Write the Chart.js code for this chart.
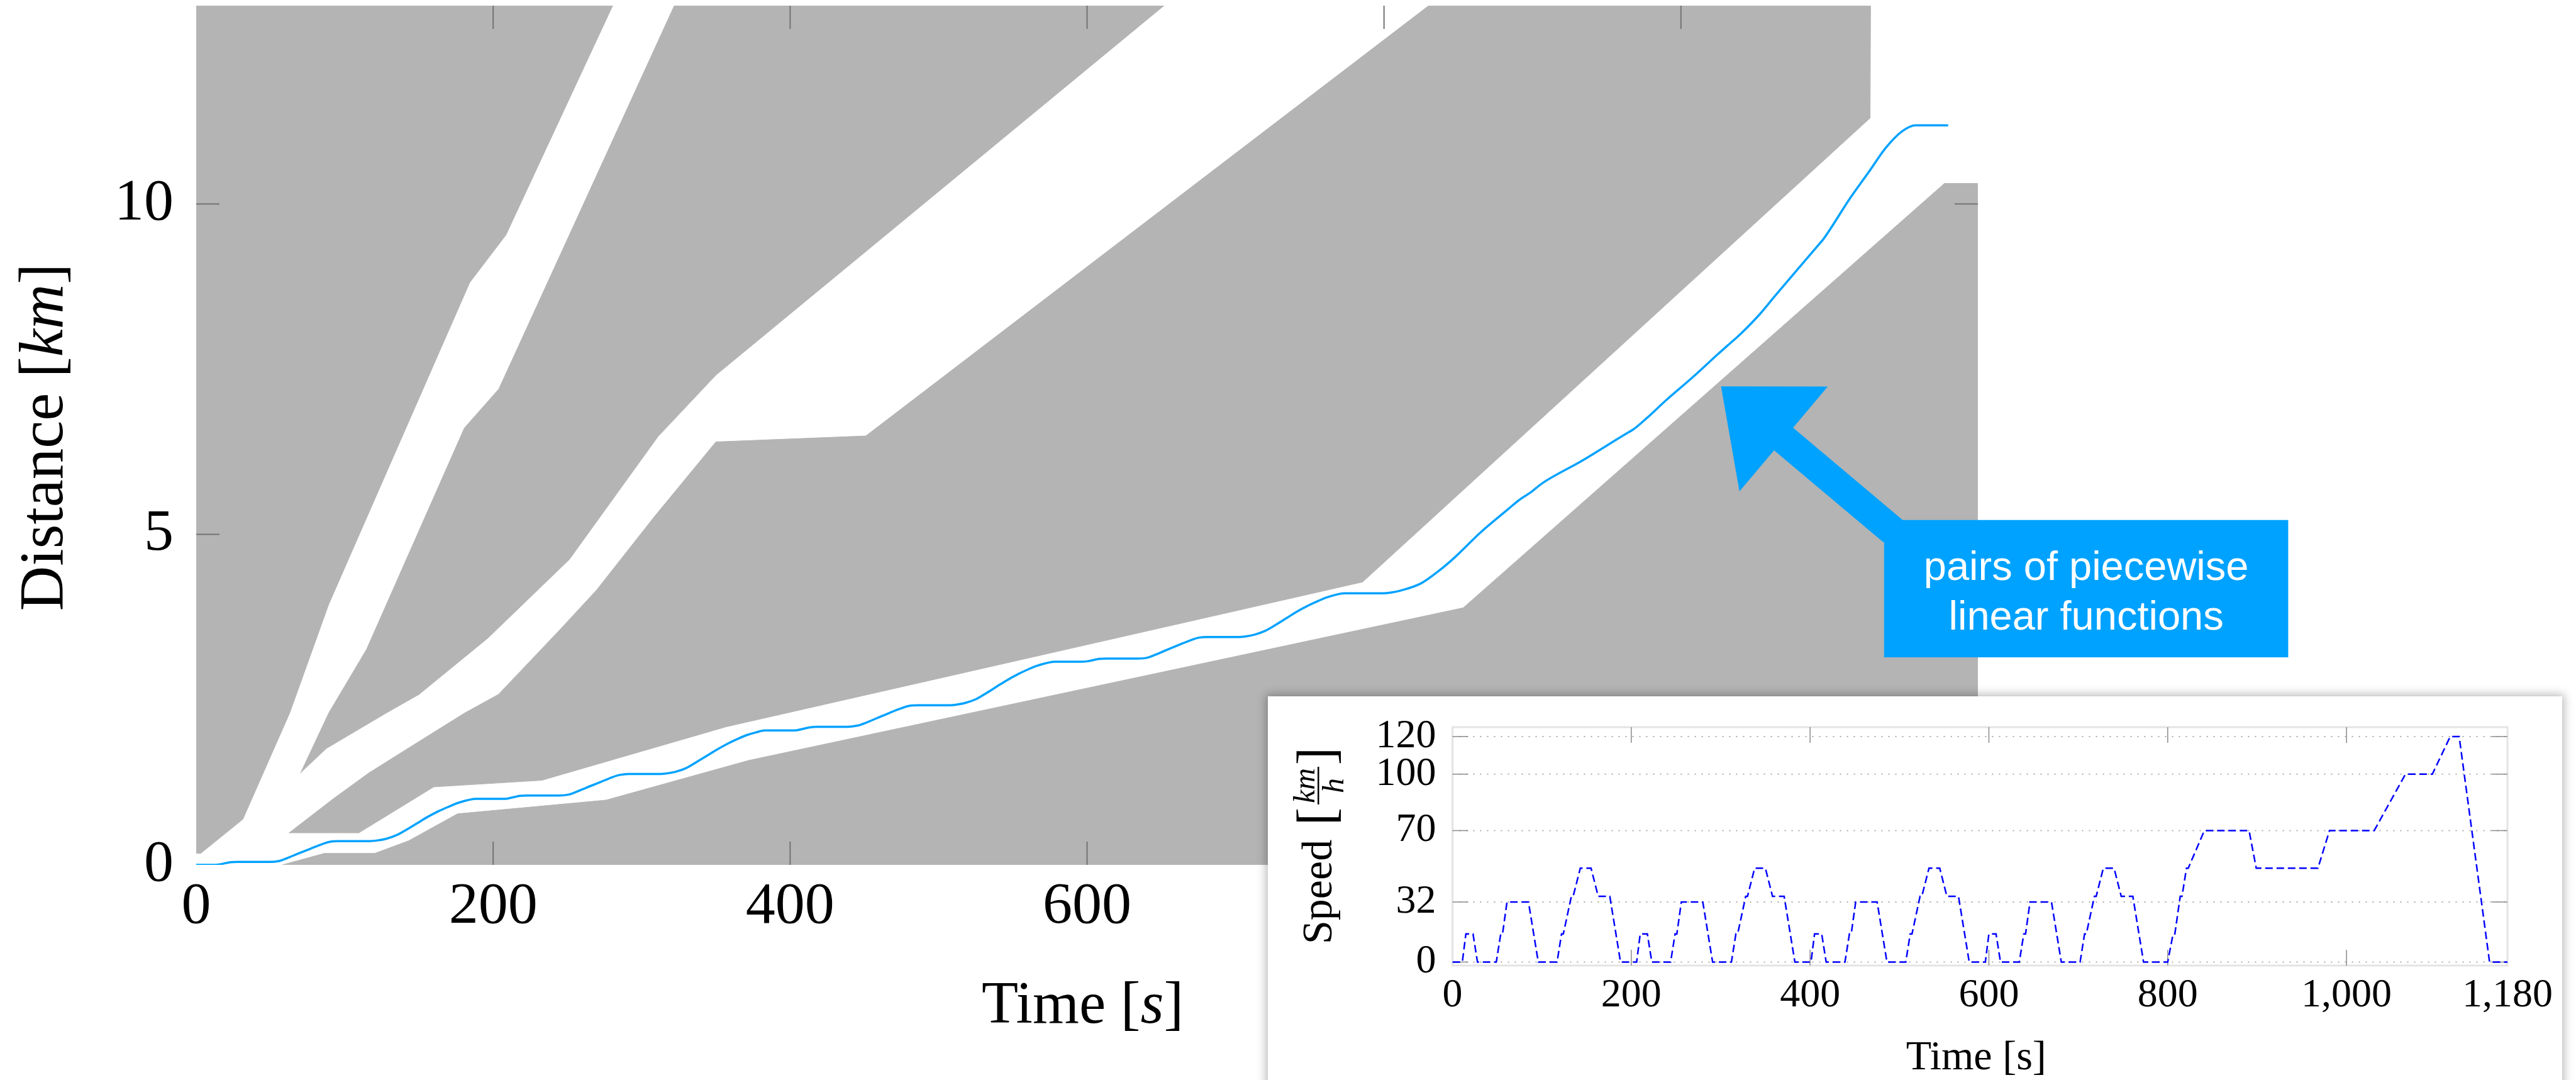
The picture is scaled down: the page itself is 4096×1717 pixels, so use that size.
<!DOCTYPE html>
<html>
<head>
  <meta charset="utf-8">
  <title>Distance corridors</title>
  <script src="https://cdn.jsdelivr.net/npm/chart.js"></script>
  <style>
    body { margin: 0; width: 4096px; height: 1717px; overflow: hidden; background: #fff; position: relative; }
    #main { position: absolute; left: 0; top: 0; }
    .inset { position: absolute; left: 2016px; top: 1107px; width: 2058px; height: 700px; background: #fff;
             box-shadow: 0 0 14px 3px rgba(0, 0, 0, 0.28); }
  </style>
</head>
<body>
  <canvas id="main" width="4096" height="1717"></canvas>
  <div class="inset"><canvas id="speed" width="2058" height="610"></canvas></div>

  <script>
    // ---- data ----
    const timeTicks = [0, 200, 400, 600, 800, 1000, 1200];
    const distTicks = [0, 5, 10];
    const insetTimeTicks = [0, 200, 400, 600, 800, 1000, 1180];
    const speedTicks = [0, 32, 70, 100, 120];

    // grey regions [time s, distance km]
    const greyLeft = [[0, 0.174], [3, 0.174], [31.4, 0.69], [63, 2.3], [89.2, 3.94], [184.2, 8.81], [208.6, 9.53], [280.5, 13], [0, 13]];
    const greyWedge = [[70.3, 1.39], [89.3, 2.3], [114.7, 3.26], [180.6, 6.61], [203.8, 7.2], [322, 13], [651.8, 13], [350, 7.41],
      [311, 6.48], [251.3, 4.62], [196.4, 3.43], [150.1, 2.58], [128.2, 2.3], [88.3, 1.77]];
    const greyMiddle = [[62.3, 0.48], [92.3, 1.0], [116.2, 1.39], [148.1, 1.84], [181, 2.3], [203.6, 2.58], [245, 3.56], [269.7, 4.16],
      [308.6, 5.27], [350, 6.4], [451, 6.49], [830.1, 13], [1127.7, 13], [1127.4, 11.3], [785.6, 4.28], [357, 2.09], [232.8, 1.28],
      [160, 1.18], [109.2, 0.48]];
    const greyLower = [[58, 0], [86.3, 0.174], [120.2, 0.174], [143.1, 0.365], [176, 0.773], [276, 0.98], [372, 1.58], [853.4, 3.89],
      [1177.4, 10.31], [1200, 10.31], [1200, 0]];

    // travelled distance (blue line)
    const distTime = [0, 11, 15, 23, 28, 49, 56, 61, 68, 77, 85, 90, 96, 117, 122, 128, 135, 143, 150, 155, 163, 170, 176, 182, 188,
      206, 210, 218, 223, 244, 251, 256, 263, 272, 280, 285, 291, 312, 317, 323, 330, 338, 345, 350, 358, 365, 371, 377, 383,
      401, 405, 413, 418, 439, 446, 451, 458, 467, 475, 480, 486, 507, 512, 518, 525, 533, 540, 545, 553, 560, 566, 572, 578,
      596, 600, 608, 613, 634, 641, 646, 653, 662, 670, 675, 681, 702, 707, 713, 720, 728, 735, 740, 748, 755, 761, 767, 773,
      800, 806, 812, 825, 837, 848, 865, 884, 891, 899, 907, 933, 962, 968, 977, 990, 1008, 1025, 1031, 1040, 1053, 1063, 1093,
      1096, 1114, 1127, 1138, 1149, 1158, 1180];
    const distKm = [0, 0, 0.005, 0.04, 0.045, 0.045, 0.06, 0.1, 0.165, 0.245, 0.315, 0.35, 0.36, 0.36, 0.37, 0.395, 0.45, 0.55, 0.645, 0.715, 0.81, 0.88, 0.935, 0.975, 1.0,
      1.0, 1.005, 1.045, 1.05, 1.05, 1.065, 1.105, 1.17, 1.25, 1.325, 1.36, 1.375, 1.375, 1.385, 1.41, 1.465, 1.57, 1.665, 1.735, 1.835, 1.91, 1.965, 2.005, 2.035,
      2.035, 2.04, 2.08, 2.09, 2.09, 2.11, 2.15, 2.215, 2.3, 2.37, 2.405, 2.415, 2.415, 2.425, 2.45, 2.505, 2.61, 2.71, 2.78, 2.88, 2.955, 3.01, 3.05, 3.075,
      3.075, 3.08, 3.116, 3.122, 3.122, 3.137, 3.179, 3.246, 3.329, 3.401, 3.437, 3.448, 3.448, 3.458, 3.484, 3.541, 3.644, 3.743, 3.815, 3.913, 3.986, 4.043, 4.084, 4.11,
      4.11, 4.125, 4.155, 4.26, 4.45, 4.66, 5.03, 5.39, 5.52, 5.64, 5.78, 6.11, 6.51, 6.59, 6.76, 7.03, 7.38, 7.73, 7.85, 8.03, 8.33, 8.6, 9.39,
      9.47, 10.09, 10.5, 10.85, 11.1, 11.19, 11.19];

    // speed profile (inset)
    const speedTime = [0, 11, 15, 23, 28, 49, 54, 56, 61, 85, 96, 117, 122, 124, 133, 135, 143, 155, 163, 176, 188,
      206, 210, 218, 223, 244, 249, 251, 256, 280, 291, 312, 317, 319, 328, 330, 338, 350, 358, 371, 383,
      401, 405, 413, 418, 439, 444, 446, 451, 475, 486, 507, 512, 514, 523, 525, 533, 545, 553, 566, 578,
      596, 600, 608, 613, 634, 639, 641, 646, 670, 681, 702, 707, 709, 718, 720, 728, 740, 748, 761, 773,
      800, 806, 808, 814, 816, 821, 823, 841, 891, 899, 968, 981, 1031, 1066, 1096, 1116, 1126, 1160, 1180];
    const speedKmh = [0, 0, 15, 15, 0, 0, 15, 15, 32, 32, 0, 0, 15, 15, 35, 35, 50, 50, 35, 35, 0,
      0, 15, 15, 0, 0, 15, 15, 32, 32, 0, 0, 15, 15, 35, 35, 50, 50, 35, 35, 0,
      0, 15, 15, 0, 0, 15, 15, 32, 32, 0, 0, 15, 15, 35, 35, 50, 50, 35, 35, 0,
      0, 15, 15, 0, 0, 15, 15, 32, 32, 0, 0, 15, 15, 35, 35, 50, 50, 35, 35, 0,
      0, 15, 15, 35, 35, 50, 50, 70, 70, 50, 50, 70, 70, 100, 100, 120, 120, 0, 0];

    // callout, in data units of the main chart
    const arrowTip = [1027, 7.24];
    const arrowTail = [1142.8, 5.05];
    const calloutBox = { t0: 1136.8, t1: 1409, d0: 5.218, d1: 3.14 };
    const calloutLines = ['pairs of piecewise', 'linear functions'];

    const serif = '"Liberation Serif", "Times New Roman", serif';
    const grey = '#b4b4b4';
    const accent = '#00a2ff';

    const pts = pairs => pairs.map(p => ({ x: p[0], y: p[1] }));
    const zip = (xs, ys) => xs.map((v, i) => ({ x: v, y: ys[i] }));

    // draws text runs of mixed fonts centred on x, on baseline y
    function drawRuns(ctx, runs, x, y, angle) {
      ctx.save();
      ctx.translate(x, y);
      if (angle) ctx.rotate(angle);
      ctx.textAlign = 'left';
      ctx.textBaseline = 'alphabetic';
      ctx.fillStyle = '#000';
      let total = 0;
      runs.forEach(r => { ctx.font = r.font; r.w = ctx.measureText(r.text).width; total += r.w; });
      let cx = -total / 2;
      runs.forEach(r => { ctx.font = r.font; ctx.fillText(r.text, cx, 0); cx += r.w; });
      ctx.restore();
    }

    function innerTicks(ctx, a, xs, ys, xVals, yVals, len) {
      ctx.beginPath();
      xVals.forEach(v => {
        const p = xs.getPixelForValue(v);
        if (p < a.left + 2 || p > a.right - 2) return;
        ctx.moveTo(p, a.top); ctx.lineTo(p, a.top + len);
        ctx.moveTo(p, a.bottom); ctx.lineTo(p, a.bottom - len);
      });
      yVals.forEach(v => {
        const p = ys.getPixelForValue(v);
        if (p < a.top + 2 || p > a.bottom - 2) return;
        ctx.moveTo(a.left, p); ctx.lineTo(a.left + len, p);
        ctx.moveTo(a.right, p); ctx.lineTo(a.right - len, p);
      });
      ctx.stroke();
    }

    // fixed axis boxes, no extra label padding
    const fixWidth = w => s => { s.width = w; s.paddingTop = 0; s.paddingBottom = 0; };
    const fixHeight = h => s => { s.height = h; s.paddingLeft = 0; s.paddingRight = 0; };

    const mainDecor = {
      id: 'mainDecor',
      afterDatasetsDraw(chart) {
        const { ctx, chartArea: a, scales: { x, y } } = chart;
        ctx.save();
        ctx.strokeStyle = '#737373';
        ctx.lineWidth = 2;
        innerTicks(ctx, a, x, y, timeTicks, distTicks, 37);
        ctx.restore();
      },
      afterDraw(chart) {
        const { ctx, chartArea: a, scales: { x, y } } = chart;
        drawRuns(ctx, [
          { text: 'Time [', font: `95px ${serif}` },
          { text: 's', font: `italic 95px ${serif}` },
          { text: ']', font: `95px ${serif}` }
        ], (a.left + a.right) / 2 - 7, a.bottom + 251);
        drawRuns(ctx, [
          { text: 'Distance [', font: `99px ${serif}` },
          { text: 'km', font: `italic 99px ${serif}` },
          { text: ']', font: `99px ${serif}` }
        ], a.left - 213, (a.top + a.bottom) / 2 + 3, -Math.PI / 2);

        // arrow
        const tx = x.getPixelForValue(arrowTip[0]), ty = y.getPixelForValue(arrowTip[1]);
        const sx = x.getPixelForValue(arrowTail[0]), sy = y.getPixelForValue(arrowTail[1]);
        const len = Math.hypot(tx - sx, ty - sy);
        const ux = (tx - sx) / len, uy = (ty - sy) / len, nx = -uy, ny = ux;
        const headLen = 130, headHalf = 109, shaftHalf = 23.5;
        const bx = tx - ux * headLen, by = ty - uy * headLen;
        ctx.save();
        ctx.fillStyle = accent;
        ctx.beginPath();
        ctx.moveTo(sx + nx * shaftHalf, sy + ny * shaftHalf);
        ctx.lineTo(bx + nx * shaftHalf, by + ny * shaftHalf);
        ctx.lineTo(bx + nx * headHalf, by + ny * headHalf);
        ctx.lineTo(tx, ty);
        ctx.lineTo(bx - nx * headHalf, by - ny * headHalf);
        ctx.lineTo(bx - nx * shaftHalf, by - ny * shaftHalf);
        ctx.lineTo(sx - nx * shaftHalf, sy - ny * shaftHalf);
        ctx.closePath();
        ctx.fill();

        // callout box
        const l = x.getPixelForValue(calloutBox.t0), r = x.getPixelForValue(calloutBox.t1);
        const t = y.getPixelForValue(calloutBox.d0), b = y.getPixelForValue(calloutBox.d1);
        ctx.fillRect(l, t, r - l, b - t);
        ctx.fillStyle = '#fff';
        ctx.font = '65px "Liberation Sans", Arial, sans-serif';
        ctx.textAlign = 'center';
        ctx.textBaseline = 'alphabetic';
        ctx.fillText(calloutLines[0], (l + r) / 2, t + 95);
        ctx.fillText(calloutLines[1], (l + r) / 2, t + 174);
        ctx.restore();
      }
    };

    const regionSet = (pairs) => ({
      data: pts(pairs),
      borderColor: grey,
      borderWidth: 1,
      backgroundColor: grey,
      fill: 'shape',
      tension: 0,
      pointRadius: 0
    });

    new Chart(document.getElementById('main'), {
      type: 'line',
      data: {
        datasets: [
          {
            data: zip(distTime, distKm),
            borderColor: accent,
            borderWidth: 3.5,
            fill: false,
            cubicInterpolationMode: 'monotone',
            pointRadius: 0
          },
          regionSet(greyLeft),
          regionSet(greyWedge),
          regionSet(greyMiddle),
          regionSet(greyLower)
        ]
      },
      options: {
        animation: false,
        responsive: false,
        devicePixelRatio: 1,
        layout: { padding: { left: 0, top: 9, right: 951, bottom: 0 } },
        plugins: { legend: { display: false }, tooltip: { enabled: false } },
        scales: {
          x: {
            type: 'linear', min: 0, max: 1200,
            grid: { display: false, drawTicks: false },
            border: { display: false },
            afterBuildTicks: s => { s.ticks = timeTicks.map(v => ({ value: v })); },
            afterFit: fixHeight(342),
            ticks: { font: { family: serif, size: 94 }, color: '#000', padding: 11, maxRotation: 0, autoSkip: false, callback: v => String(v) }
          },
          y: {
            type: 'linear', min: 0, max: 13,
            grid: { display: false, drawTicks: false },
            border: { display: false },
            afterBuildTicks: s => { s.ticks = distTicks.map(v => ({ value: v })); },
            afterFit: fixWidth(312),
            ticks: { font: { family: serif, size: 94 }, color: '#000', padding: 36, callback: v => String(v) }
          }
        }
      },
      plugins: [mainDecor]
    });

    // ---- inset: speed profile ----
    const insetDecor = {
      id: 'insetDecor',
      beforeDatasetsDraw(chart) {
        const { ctx, chartArea: a, scales: { x, y } } = chart;
        ctx.save();
        ctx.strokeStyle = '#ababab';
        ctx.lineWidth = 2;
        ctx.setLineDash([2, 9]);
        ctx.beginPath();
        speedTicks.forEach(v => {
          const p = y.getPixelForValue(v);
          ctx.moveTo(a.left, p); ctx.lineTo(a.right, p);
        });
        ctx.stroke();
        ctx.setLineDash([]);
        ctx.strokeStyle = '#e4e4e4';
        ctx.lineWidth = 3;
        ctx.strokeRect(a.left, a.top, a.right - a.left, a.bottom - a.top);
        ctx.strokeStyle = '#8a8a8a';
        ctx.lineWidth = 1.5;
        innerTicks(ctx, a, x, y, insetTimeTicks, speedTicks, 25);
        ctx.restore();
      },
      afterDraw(chart) {
        const { ctx, chartArea: a } = chart;
        drawRuns(ctx, [{ text: 'Time [s]', font: `66px ${serif}` }], (a.left + a.right) / 2 - 6, a.bottom + 165);

        // rotated y title with the km/h fraction
        ctx.save();
        ctx.translate(a.left - 193, a.bottom - 34);
        ctx.rotate(-Math.PI / 2);
        ctx.fillStyle = '#000';
        ctx.textBaseline = 'alphabetic';
        ctx.textAlign = 'left';
        ctx.font = `68px ${serif}`;
        ctx.fillText('Speed', 0, 0);
        ctx.textAlign = 'center';
        ctx.font = `85px ${serif}`;
        ctx.fillText('[', 203, 4);
        ctx.fillText(']', 299, 4);
        ctx.font = `italic 48px ${serif}`;
        ctx.fillText('km', 252, -27);
        ctx.fillText('h', 252, 19);
        ctx.fillRect(222, -21.5, 60, 2.5);
        ctx.restore();
      }
    };

    new Chart(document.getElementById('speed'), {
      type: 'line',
      data: {
        datasets: [{
          data: zip(speedTime, speedKmh),
          borderColor: '#0000ff',
          borderWidth: 2.5,
          borderDash: [12, 6],
          fill: false,
          tension: 0,
          pointRadius: 0
        }]
      },
      options: {
        animation: false,
        responsive: false,
        devicePixelRatio: 1,
        layout: { padding: { left: 0, top: 49, right: 87, bottom: 0 } },
        plugins: { legend: { display: false }, tooltip: { enabled: false } },
        scales: {
          x: {
            type: 'linear', min: 0, max: 1180,
            grid: { display: false, drawTicks: false },
            border: { display: false },
            afterBuildTicks: s => { s.ticks = insetTimeTicks.map(v => ({ value: v })); },
            afterFit: fixHeight(182),
            ticks: { font: { family: serif, size: 64 }, color: '#000', padding: 10, maxRotation: 0, autoSkip: false,
                     callback: v => v.toLocaleString('en-US') }
          },
          y: {
            type: 'linear', min: -1.8, max: 125,
            grid: { display: false, drawTicks: false },
            border: { display: false },
            afterBuildTicks: s => { s.ticks = speedTicks.map(v => ({ value: v })); },
            afterFit: fixWidth(293.5),
            ticks: { font: { family: serif, size: 64 }, color: '#000', padding: 26, callback: v => String(v) }
          }
        }
      },
      plugins: [insetDecor]
    });
  </script>
</body>
</html>
